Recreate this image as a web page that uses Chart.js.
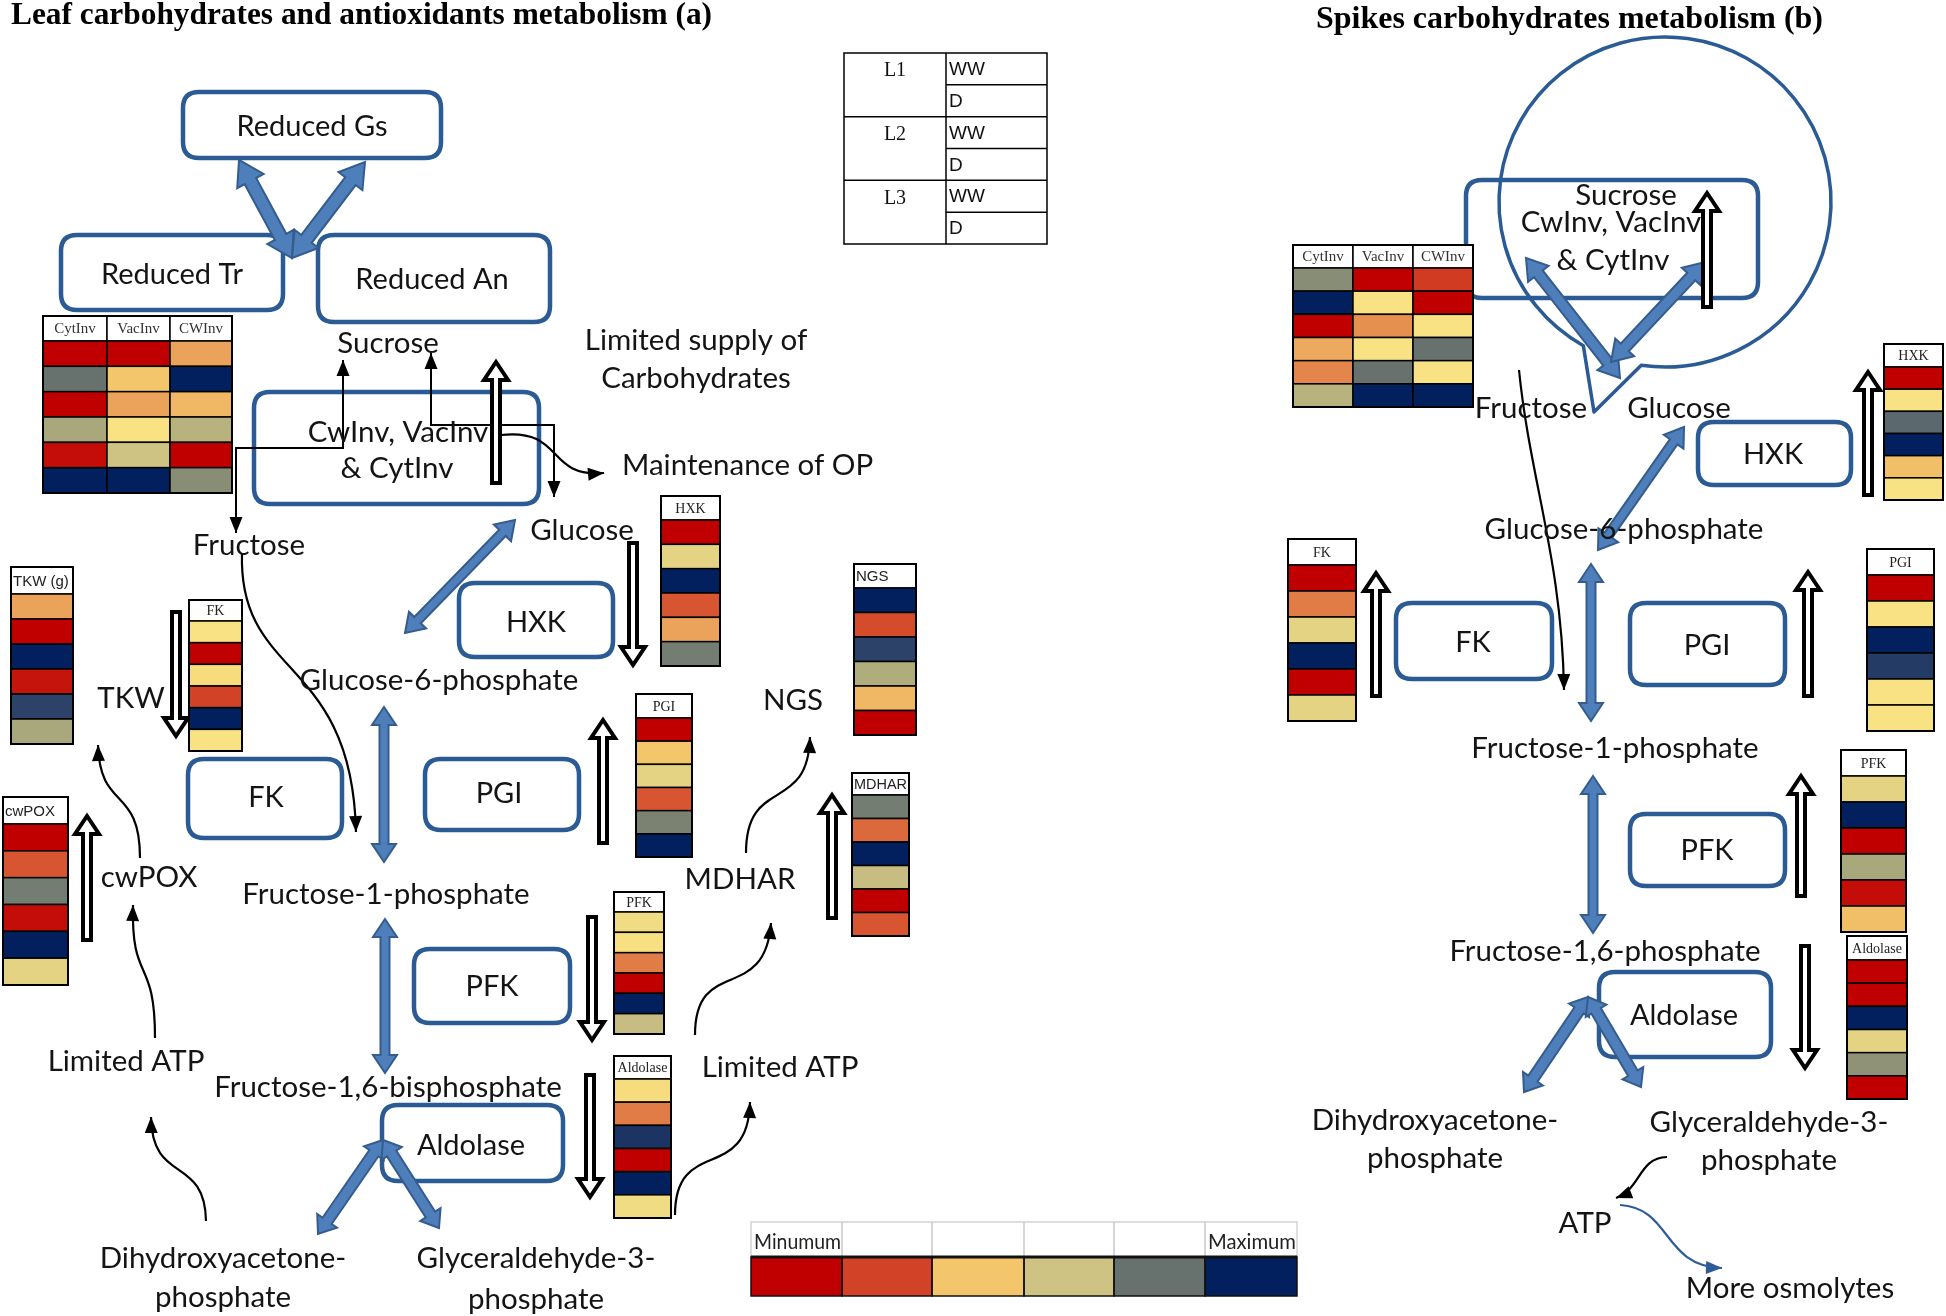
<!DOCTYPE html>
<html><head><meta charset="utf-8">
<script src="https://cdn.jsdelivr.net/npm/chart.js@4"></script>
<style>html,body{margin:0;padding:0;background:#fff;}canvas{display:block;}</style>
</head><body>
<canvas id="c" width="1946" height="1316" style="width:1946px;height:1316px"></canvas>
<script>
// ---------------- DATA (colour level 1 = minimum ... 6 = maximum) ----------------
// rows: L1 WW, L1 D, L2 WW, L2 D, L3 WW, L3 D
const rowLabels = ['L1 WW', 'L1 D', 'L2 WW', 'L2 D', 'L3 WW', 'L3 D'];
const lineGroups = ['L1', 'L2', 'L3'];
const treatments = ['WW', 'D'];
const invColumns = ['CytInv', 'VacInv', 'CWInv'];

// Leaf (a)
const leafCytInv   = [1, 5, 1, 4.5, 1.2, 6];
const leafVacInv   = [1, 3, 2.5, 3.5, 4, 6];
const leafCWInv    = [2.5, 6, 2.8, 4.3, 1, 4.75];
const leafTKW      = [2.5, 1, 6, 1.3, 5.5, 4.5];
const leafFK       = [3.5, 1, 3.4, 2, 6, 3.5];
const leafCwPOX    = [1, 2.1, 4.9, 1.2, 6, 3.75];
const leafHXK      = [1, 3.75, 6, 2.1, 2.5, 4.9];
const leafPGI      = [1, 3, 3.75, 2.1, 4.85, 6];
const leafPFK      = [3.6, 3.45, 2.3, 1, 6, 4.1];
const leafAldolase = [3.4, 2.3, 5.7, 1, 6, 3.6];
const leafNGS      = [6, 2.05, 5.5, 4.4, 2.8, 1];
const leafMDHAR    = [4.9, 2.2, 6, 4.1, 1, 2.1];

// Spikes (b)
const spikeCytInv   = [4.75, 6, 1, 2.6, 2.35, 4.3];
const spikeVacInv   = [1, 3.5, 2.4, 3.5, 5, 6];
const spikeCWInv    = [1.9, 1, 3.5, 5, 3.5, 6];
const spikeHXK      = [1, 3.5, 5.1, 6, 2.9, 3.5];
const spikeFK       = [1, 2.3, 3.75, 6, 1, 3.75];
const spikePGI      = [1, 3.5, 6, 5.6, 3.5, 3.5];
const spikePFK      = [3.75, 6, 1, 4.5, 1.2, 2.9];
const spikeAldolase = [1, 1, 6, 3.75, 4.7, 1];

// colour legend
const legendLevels = [1, 2, 3, 4, 5, 6];
const legendLabels = ['Minumum', '', '', '', '', 'Maximum'];

// ---------------- STYLE / LAYOUT ----------------
const levelAnchors = [1, 2, 2.5, 3, 3.5, 4, 4.5, 5, 5.5, 6];
const anchorColors = ['#C00000', '#D24226', '#EBA35B', '#F4C66C', '#F8E283', '#CEC383', '#A9A77C', '#67726E', '#2C4268', '#03205E'];
function hexToRgb(h){ return [parseInt(h.substr(1,2),16), parseInt(h.substr(3,2),16), parseInt(h.substr(5,2),16)]; }
function colorFor(v){
  if (v <= levelAnchors[0]) return anchorColors[0];
  for (let i = 1; i < levelAnchors.length; i++) {
    if (v <= levelAnchors[i]) {
      const t = (v - levelAnchors[i-1]) / (levelAnchors[i] - levelAnchors[i-1]);
      const a = hexToRgb(anchorColors[i-1]), b = hexToRgb(anchorColors[i]);
      return 'rgb(' + a.map((c, k) => Math.round(c + (b[k] - c) * t)).join(',') + ')';
    }
  }
  return anchorColors[anchorColors.length - 1];
}

const BOX = '#2B5B94';
const TXT = '#141414';
const SANS = 'Lato, "Open Sans", sans-serif';
const SERIF = '"Liberation Serif", "DejaVu Serif", serif';
const LBL = 29.5;   // pathway label size
const BXL = 29;     // enzyme box label size

const heatColumns = [
  {vals: leafTKW, title: 'TKW (g)', serif: false, x0: 11, x1: 73, y0: 567, yh: 594, y1: 744},
  {vals: leafFK, title: 'FK', serif: true, x0: 189, x1: 242, y0: 600, yh: 621, y1: 751},
  {vals: leafCwPOX, title: 'cwPOX', serif: false, x0: 3, x1: 68, y0: 797, yh: 824, y1: 985},
  {vals: leafHXK, title: 'HXK', serif: true, x0: 661, x1: 720, y0: 496, yh: 520, y1: 666},
  {vals: leafNGS, title: 'NGS', serif: false, x0: 854, x1: 916, y0: 564, yh: 588, y1: 735},
  {vals: leafPGI, title: 'PGI', serif: true, x0: 636, x1: 692, y0: 694, yh: 718, y1: 857},
  {vals: leafMDHAR, title: 'MDHAR', serif: false, x0: 852, x1: 909, y0: 773, yh: 795, y1: 936},
  {vals: leafPFK, title: 'PFK', serif: true, x0: 614, x1: 664, y0: 892, yh: 912, y1: 1034},
  {vals: leafAldolase, title: 'Aldolase', serif: true, x0: 614, x1: 671, y0: 1056, yh: 1079, y1: 1218},
  {vals: spikeHXK, title: 'HXK', serif: true, x0: 1884, x1: 1943, y0: 344, yh: 367, y1: 500},
  {vals: spikeFK, title: 'FK', serif: true, x0: 1288, x1: 1356, y0: 539, yh: 565, y1: 721},
  {vals: spikePGI, title: 'PGI', serif: true, x0: 1867, x1: 1934, y0: 549, yh: 575, y1: 731},
  {vals: spikePFK, title: 'PFK', serif: true, x0: 1841, x1: 1906, y0: 750, yh: 776, y1: 932},
  {vals: spikeAldolase, title: 'Aldolase', serif: true, x0: 1847, x1: 1907, y0: 936, yh: 960, y1: 1099}
];
const invTables = [
  {cols: [leafCytInv, leafVacInv, leafCWInv], xs: [43, 107, 170, 232], y0: 316, yh: 341, y1: 493},
  {cols: [spikeCytInv, spikeVacInv, spikeCWInv], xs: [1293, 1353, 1413, 1473], y0: 245, yh: 268, y1: 407}
];

const boxes = [
  [183, 92, 441, 158], [61, 235, 283, 310], [318, 235, 550, 322], [254, 392, 539, 504],
  [459, 583, 613, 657], [188, 759, 342, 838], [425, 759, 579, 830], [414, 949, 570, 1023],
  [382, 1105, 563, 1181],
  [1466, 180, 1758, 298], [1698, 422, 1851, 485], [1396, 603, 1552, 679], [1630, 603, 1785, 685],
  [1630, 814, 1785, 886], [1599, 972, 1771, 1057]
];

// blue arrows: x1,y1,x2,y2, shaft, headW, headL, double
const blueArrows = [
  [292, 258, 239, 160, 13, 30, 24, true], [292, 258, 365, 162, 13, 30, 24, true],
  [515, 520, 405, 633, 9, 24, 18, true],
  [384, 707, 384, 862, 9, 24, 18, true], [385, 919, 385, 1073, 9, 24, 18, true],
  [383, 1140, 318, 1234, 11, 24, 16, true], [383, 1140, 439, 1228, 11, 24, 16, true],
  [1526, 258, 1620, 378, 11, 26, 20, true], [1611, 362, 1705, 262, 11, 26, 20, true],
  [1684, 427, 1598, 550, 9, 24, 18, true],
  [1591, 564, 1591, 721, 9, 24, 18, true], [1593, 776, 1593, 933, 9, 24, 18, true],
  [1588, 997, 1524, 1092, 11, 24, 16, true], [1588, 997, 1641, 1087, 11, 24, 16, true]
];
// hollow black arrows: x, yStart, yTip
const hollowArrows = [
  [496, 483, 362], [633, 543, 665], [176, 612, 736], [87, 940, 816], [603, 843, 720],
  [832, 918, 795], [592, 917, 1040], [590, 1075, 1197],
  [1707, 307, 193], [1868, 495, 372], [1376, 696, 573], [1808, 696, 572], [1801, 896, 776], [1805, 946, 1068]
];
// thin polylines with arrowheads at both ends
const polyArrows = [
  [[343, 360], [343, 448], [236, 448], [236, 533]],
  [[431, 353], [431, 425], [554, 425], [554, 497]]
];
// curved arrows: P0, C1, C2, P3, colour
const curveArrows = [
  [[242, 553], [238, 680], [352, 655], [356, 832], '#000'],
  [[501, 435], [565, 428], [545, 478], [604, 473], '#000'],
  [[140, 858], [140, 785], [100, 812], [98, 745], '#000'],
  [[155, 1038], [155, 955], [131, 985], [133, 905], '#000'],
  [[206, 1221], [205, 1155], [152, 1185], [151, 1117], '#000'],
  [[695, 1035], [695, 955], [765, 1005], [771, 923], '#000'],
  [[675, 1215], [675, 1135], [748, 1185], [750, 1102], '#000'],
  [[746, 853], [746, 775], [808, 815], [810, 737], '#000'],
  [[1519, 370], [1530, 480], [1562, 560], [1564, 690], '#000'],
  [[1667, 1157], [1638, 1158], [1642, 1188], [1616, 1198], '#000'],
  [[1620, 1205], [1672, 1208], [1662, 1266], [1722, 1268], '#2E5C99']
];

// texts: str, x, y, size, align
const texts = [
  ['Reduced Gs', 312, 127, BXL], ['Reduced Tr', 172, 275, BXL], ['Reduced An', 432, 280, BXL],
  ['Sucrose', 388, 343, LBL], ['Limited supply of', 696, 340, LBL], ['Carbohydrates', 696, 378, LBL],
  ['CwInv, VacInv', 398, 432, LBL], ['& CytInv', 397, 468, LBL],
  ['Maintenance of OP', 622, 465, LBL, 'left'],
  ['Fructose', 249, 545, LBL], ['Glucose', 582, 530, LBL], ['HXK', 536, 623, BXL],
  ['Glucose-6-phosphate', 439, 680, LBL], ['TKW', 131, 698, LBL], ['cwPOX', 149, 877, LBL],
  ['FK', 266, 798, BXL], ['PGI', 499, 794, BXL], ['NGS', 793, 700, LBL], ['MDHAR', 740, 879, LBL],
  ['Fructose-1-phosphate', 386, 894, LBL], ['PFK', 492, 987, BXL],
  ['Limited ATP', 126, 1061, LBL], ['Limited ATP', 780, 1067, LBL],
  ['Fructose-1,6-bisphosphate', 388, 1087, LBL], ['Aldolase', 471, 1146, BXL],
  ['Dihydroxyacetone-', 223, 1258, LBL], ['phosphate', 223, 1297, LBL],
  ['Glyceraldehyde-3-', 536, 1258, LBL], ['phosphate', 536, 1299, LBL],
  ['Sucrose', 1626, 195, LBL], ['CwInv, VacInv', 1611, 222, LBL], ['& CytInv', 1613, 260, LBL],
  ['Fructose', 1531, 408, LBL], ['Glucose', 1679, 408, LBL], ['HXK', 1773, 455, BXL],
  ['Glucose-6-phosphate', 1624, 529, LBL], ['FK', 1473, 643, BXL], ['PGI', 1707, 646, BXL],
  ['Fructose-1-phosphate', 1615, 748, LBL], ['PFK', 1707, 851, BXL],
  ['Fructose-1,6-phosphate', 1605, 951, LBL], ['Aldolase', 1684, 1016, BXL],
  ['Dihydroxyacetone-', 1435, 1120, LBL], ['phosphate', 1435, 1158, LBL],
  ['Glyceraldehyde-3-', 1769, 1122, LBL], ['phosphate', 1769, 1160, LBL],
  ['ATP', 1585, 1223, LBL], ['More osmolytes', 1790, 1288, LBL]
];

// ---------------- DRAWING ----------------
const diagramPlugin = {
  id: 'diagram',
  beforeDraw(chart) {
    const c = chart.ctx; c.save(); c.fillStyle = '#fff'; c.fillRect(0, 0, chart.width, chart.height); c.restore();
  },
  afterDraw(chart) {
    const ctx = chart.ctx;
    const sx = chart.scales.x, sy = chart.scales.y;
    const X = v => sx.getPixelForValue(v), Y = v => sy.getPixelForValue(v);
    ctx.save();
    ctx.lineJoin = 'round';

    function roundRect(x0, y0, x1, y1, r) {
      const a = X(x0), b = Y(y0), c = X(x1), d = Y(y1);
      ctx.beginPath();
      ctx.moveTo(a + r, b); ctx.lineTo(c - r, b); ctx.quadraticCurveTo(c, b, c, b + r);
      ctx.lineTo(c, d - r); ctx.quadraticCurveTo(c, d, c - r, d);
      ctx.lineTo(a + r, d); ctx.quadraticCurveTo(a, d, a, d - r);
      ctx.lineTo(a, b + r); ctx.quadraticCurveTo(a, b, a + r, b); ctx.closePath();
    }
    function arrowPoly(x1, y1, x2, y2, sw, hw, hl, dbl) {
      const ax = X(x1), ay = Y(y1), bx = X(x2), by = Y(y2);
      const dx = bx - ax, dy = by - ay, L = Math.hypot(dx, dy);
      const ux = dx / L, uy = dy / L, px = -uy, py = ux;
      const P = (t, o) => [ax + ux * t + px * o, ay + uy * t + py * o];
      let pts;
      if (dbl) pts = [P(0, 0), P(hl, hw / 2), P(hl, sw / 2), P(L - hl, sw / 2), P(L - hl, hw / 2), P(L, 0),
                      P(L - hl, -hw / 2), P(L - hl, -sw / 2), P(hl, -sw / 2), P(hl, -hw / 2)];
      else pts = [P(0, sw / 2), P(L - hl, sw / 2), P(L - hl, hw / 2), P(L, 0), P(L - hl, -hw / 2), P(L - hl, -sw / 2), P(0, -sw / 2)];
      ctx.beginPath(); pts.forEach((p, i) => i ? ctx.lineTo(p[0], p[1]) : ctx.moveTo(p[0], p[1])); ctx.closePath();
    }
    function head(tx, ty, fx, fy, len, wid, col) {
      const dx = tx - fx, dy = ty - fy, L = Math.hypot(dx, dy), ux = dx / L, uy = dy / L;
      ctx.beginPath();
      ctx.moveTo(tx, ty);
      ctx.lineTo(tx - ux * len + uy * wid / 2, ty - uy * len - ux * wid / 2);
      ctx.lineTo(tx - ux * len - uy * wid / 2, ty - uy * len + ux * wid / 2);
      ctx.closePath(); ctx.fillStyle = col; ctx.fill();
    }
    function text(str, x, y, size, align, font, weight, color, maxW) {
      ctx.font = (weight || '') + ' ' + size + 'px ' + (font || SANS);
      ctx.fillStyle = color || TXT; ctx.textAlign = align || 'center'; ctx.textBaseline = 'middle';
      if (maxW) ctx.fillText(str, X(x), Y(y), maxW); else ctx.fillText(str, X(x), Y(y));
    }
    function fitText(str, x0, x1, y, size, font, weight, color) {
      ctx.save();
      ctx.font = weight + ' ' + size + 'px ' + font;
      ctx.fillStyle = color; ctx.textAlign = 'left'; ctx.textBaseline = 'middle';
      const w = ctx.measureText(str).width;
      ctx.translate(X(x0), Y(y)); ctx.scale((X(x1) - X(x0)) / w, 1);
      ctx.fillText(str, 0, 0);
      ctx.restore();
    }

    // boxes
    ctx.strokeStyle = BOX; ctx.lineWidth = 4.5;
    boxes.forEach(b => { roundRect(b[0], b[1], b[2], b[3], 16); ctx.stroke(); });

    // callout ellipse (b)
    const ecx = X(1665), ecy = Y(202), erx = X(1831) - X(1665), ery = Y(367) - Y(202);
    const a1 = Math.atan2((Y(348) - ecy) / ery, (X(1582) - ecx) / erx);
    const a2 = Math.atan2((Y(367) - ecy) / ery, (X(1641) - ecx) / erx);
    ctx.beginPath();
    ctx.ellipse(ecx, ecy, erx, ery, 0, a1, a2 + Math.PI * 2, false);
    ctx.lineTo(X(1594), Y(412)); ctx.closePath();
    ctx.lineWidth = 3.5; ctx.stroke();

    // titles
    fitText('Leaf carbohydrates and antioxidants metabolism (a)', 11, 712, 16, 31, SERIF, 'bold', '#000');
    fitText('Spikes carbohydrates metabolism (b)', 1316, 1823, 20, 31, SERIF, 'bold', '#000');

    // thin polylines
    ctx.strokeStyle = '#000'; ctx.lineWidth = 2; ctx.lineJoin = 'miter';
    polyArrows.forEach(pl => {
      ctx.beginPath();
      pl.forEach((p, i) => i ? ctx.lineTo(X(p[0]), Y(p[1])) : ctx.moveTo(X(p[0]), Y(p[1])));
      ctx.stroke();
      const n = pl.length;
      head(X(pl[0][0]), Y(pl[0][1]), X(pl[1][0]), Y(pl[1][1]), 16, 13, '#000');
      head(X(pl[n - 1][0]), Y(pl[n - 1][1]), X(pl[n - 2][0]), Y(pl[n - 2][1]), 16, 13, '#000');
    });
    // curves
    curveArrows.forEach(cv => {
      const [p0, c1, c2, p3, col] = cv;
      const hx = X(p3[0]), hy = Y(p3[1]);
      ctx.beginPath(); ctx.moveTo(X(p0[0]), Y(p0[1]));
      ctx.bezierCurveTo(X(c1[0]), Y(c1[1]), X(c2[0]), Y(c2[1]), hx, hy);
      ctx.strokeStyle = col; ctx.lineWidth = 2.2; ctx.stroke();
      head(hx, hy, X(c2[0]), Y(c2[1]), 16, 13, col);
    });

    // blue arrows
    ctx.lineJoin = 'miter';
    blueArrows.forEach(a => {
      arrowPoly(a[0], a[1], a[2], a[3], a[4], a[5], a[6], a[7]);
      ctx.fillStyle = '#4F7FBB'; ctx.fill();
      ctx.strokeStyle = '#345C8E'; ctx.lineWidth = 2; ctx.stroke();
    });

    // texts (on top of the pathway arrows)
    texts.forEach(t => text(t[0], t[1], t[2], t[3], t[4]));

    // hollow arrows
    hollowArrows.forEach(a => {
      arrowPoly(a[0], a[1], a[0], a[2], 8, 24, 18, false);
      ctx.fillStyle = '#fff'; ctx.fill();
      ctx.strokeStyle = '#000'; ctx.lineWidth = 4; ctx.stroke();
    });

    // heat-map columns
    heatColumns.forEach(h => {
      const x0 = X(h.x0), x1 = X(h.x1), y0 = Y(h.y0), yh = Y(h.yh), y1 = Y(h.y1);
      const ch = (y1 - yh) / h.vals.length;
      ctx.fillStyle = '#fff'; ctx.fillRect(x0, y0, x1 - x0, yh - y0);
      ctx.strokeStyle = '#000'; ctx.lineWidth = 1.5; ctx.strokeRect(x0, y0, x1 - x0, yh - y0);
      h.vals.forEach((v, i) => {
        ctx.fillStyle = colorFor(v); ctx.fillRect(x0, yh + i * ch, x1 - x0, ch);
        ctx.strokeRect(x0, yh + i * ch, x1 - x0, ch);
      });
      ctx.lineWidth = 2; ctx.strokeRect(x0, y0, x1 - x0, y1 - y0);
      ctx.font = (h.serif ? '14px ' + SERIF : '15px "Liberation Sans", sans-serif');
      ctx.fillStyle = '#222'; ctx.textBaseline = 'middle';
      if (h.serif) { ctx.textAlign = 'center'; ctx.fillText(h.title, (x0 + x1) / 2, (y0 + yh) / 2 + 1, x1 - x0 - 4); }
      else { ctx.textAlign = 'left'; ctx.fillText(h.title, x0 + 2, (y0 + yh) / 2 + 1, x1 - x0 - 4); }
    });
    // invertase tables
    invTables.forEach(t => {
      const y0 = Y(t.y0), yh = Y(t.yh), y1 = Y(t.y1);
      t.cols.forEach((vals, ci) => {
        const x0 = X(t.xs[ci]), x1 = X(t.xs[ci + 1]);
        const ch = (y1 - yh) / vals.length;
        ctx.fillStyle = '#fff'; ctx.fillRect(x0, y0, x1 - x0, yh - y0);
        ctx.strokeStyle = '#000'; ctx.lineWidth = 1.5; ctx.strokeRect(x0, y0, x1 - x0, yh - y0);
        vals.forEach((v, i) => {
          ctx.fillStyle = colorFor(v); ctx.fillRect(x0, yh + i * ch, x1 - x0, ch);
          ctx.strokeRect(x0, yh + i * ch, x1 - x0, ch);
        });
        ctx.font = '15px ' + SERIF; ctx.fillStyle = '#333'; ctx.textAlign = 'center'; ctx.textBaseline = 'middle';
        ctx.fillText(invColumns[ci], (x0 + x1) / 2, (y0 + yh) / 2 + 1, x1 - x0 - 4);
      });
      ctx.lineWidth = 2; ctx.strokeStyle = '#000';
      ctx.strokeRect(X(t.xs[0]), y0, X(t.xs[3]) - X(t.xs[0]), y1 - y0);
    });

    // line / treatment key table
    const kx0 = X(844), kxm = X(946), kx1 = X(1047), ky0 = Y(53), ky1 = Y(244);
    const groupH = (ky1 - ky0) / lineGroups.length;
    ctx.strokeStyle = '#000'; ctx.lineWidth = 1.5;
    ctx.strokeRect(kx0, ky0, kx1 - kx0, ky1 - ky0);
    ctx.beginPath(); ctx.moveTo(kxm, ky0); ctx.lineTo(kxm, ky1); ctx.stroke();
    lineGroups.forEach((g, gi) => {
      const gy = ky0 + gi * groupH;
      if (gi > 0) { ctx.beginPath(); ctx.moveTo(kx0, gy); ctx.lineTo(kx1, gy); ctx.stroke(); }
      ctx.beginPath(); ctx.moveTo(kxm, gy + groupH / 2); ctx.lineTo(kx1, gy + groupH / 2); ctx.stroke();
      ctx.font = '20px ' + SERIF; ctx.fillStyle = '#111'; ctx.textAlign = 'center'; ctx.textBaseline = 'middle';
      ctx.fillText(g, (kx0 + kxm) / 2, gy + 18);
      treatments.forEach((tr, ti) => {
        ctx.font = '19px "Liberation Sans", sans-serif'; ctx.textAlign = 'left';
        ctx.fillText(tr, kxm + 3, gy + groupH / 4 + ti * groupH / 2 + 1);
      });
    });

    // colour legend
    const lx = [751, 842, 932, 1024, 1114, 1205, 1297].map(X);
    const lyt = Y(1222), lym = Y(1257), lyb = Y(1296);
    ctx.strokeStyle = '#d4d4d4'; ctx.lineWidth = 1.5;
    for (let i = 0; i < 6; i++) ctx.strokeRect(lx[i], lyt, lx[i + 1] - lx[i], lym - lyt);
    legendLevels.forEach((lv, i) => {
      ctx.fillStyle = colorFor(lv); ctx.fillRect(lx[i], lym, lx[i + 1] - lx[i], lyb - lym);
    });
    ctx.strokeStyle = '#111'; ctx.lineWidth = 1.5;
    for (let i = 0; i < 6; i++) ctx.strokeRect(lx[i], lym, lx[i + 1] - lx[i], lyb - lym);
    ctx.lineWidth = 3; ctx.beginPath(); ctx.moveTo(lx[0], lym); ctx.lineTo(lx[6], lym); ctx.stroke();
    legendLabels.forEach((lb, i) => {
      if (!lb) return;
      ctx.font = '22px ' + SANS; ctx.fillStyle = '#222'; ctx.textAlign = 'left'; ctx.textBaseline = 'middle';
      ctx.fillText(lb, lx[i] + 3, (lyt + lym) / 2 + 2, lx[i + 1] - lx[i] - 4);
    });

    ctx.restore();
  }
};

new Chart(document.getElementById('c'), {
  type: 'scatter',
  data: { datasets: [{ label: 'diagram', data: [], showLine: false }] },
  options: {
    responsive: false, animation: false, devicePixelRatio: 1,
    layout: { padding: 0 },
    scales: {
      x: { type: 'linear', min: 0, max: 1946, display: false },
      y: { type: 'linear', min: 0, max: 1316, reverse: true, display: false }
    },
    plugins: { legend: { display: false }, tooltip: { enabled: false }, title: { display: false } }
  },
  plugins: [diagramPlugin]
});
</script>
</body></html>
